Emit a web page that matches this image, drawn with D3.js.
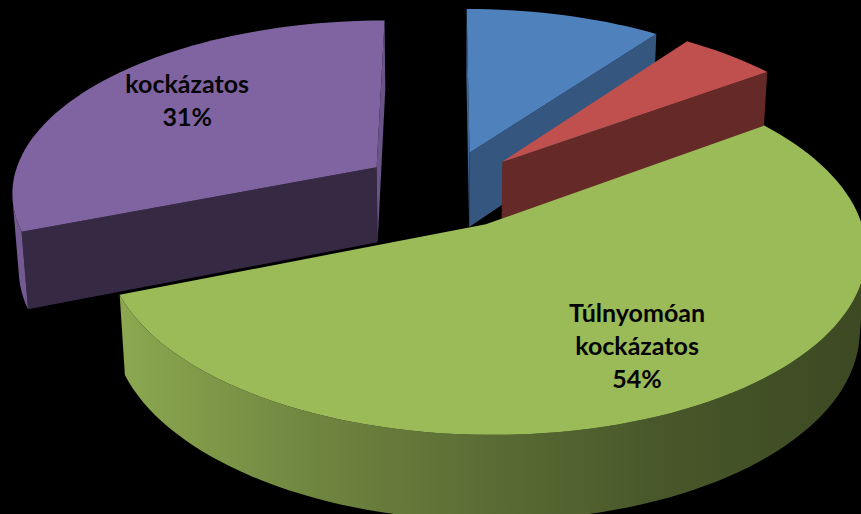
<!DOCTYPE html>
<html>
<head>
<meta charset="utf-8">
<style>html,body{margin:0;padding:0;background:#000;overflow:hidden}svg{display:block}</style>
<script src="https://cdn.jsdelivr.net/npm/d3@7/dist/d3.min.js"></script>
</head>
<body>
<script>
// ---- data ----
const categories = ["", "", "Túlnyomóan kockázatos", "kockázatos"];
const values = [10, 5, 54, 31];
const labelLines = [[], [], ["Túlnyomóan", "kockázatos", "54%"], ["kockázatos", "31%"]];
const colors = ["#4f81bd", "#c0504d", "#9bbb59", "#8064a2"];

const W = 861, H = 514;
// 3D pie view
const cx = 444.5, cy = 189, Rx = 366, Ry = 172, persp = 0.134, depthPersp = 0.015;
const thickness = 77, explode = 0.228, stepDeg = 2;

const svg = d3.select("body").append("svg").attr("width", W).attr("height", H);
svg.append("rect").attr("width", W).attr("height", H).attr("fill", "#000");
const defs = svg.append("defs");

const pie = d3.pie().sort(null).value(d => d)
  .startAngle(0).endAngle(2 * Math.PI);
const arcs = pie(values);

function project(U, V, d) {
  const w = 1 / (1 - persp * V + depthPersp * d);
  return [cx + Rx * U * w, cy + (Ry * V + thickness * d) * w];
}
const line = d3.line().x(p => p[0]).y(p => p[1]);
const closed = pts => line(pts) + "Z";

const faceShade = d3.scaleLinear().domain([90, 126, 144, 158, 270]).range([0.83, 0.67, 0.525, 0.41, 0.8]);
const rimShade = [[0, 0.9], [0.25, 0.72], [0.5, 0.58], [0.72, 0.47], [1, 0.39]];
const shade = (c, k) => { const r = d3.rgb(c); return d3.rgb(r.r * k, r.g * k, r.b * k).formatHex(); };
const signedArea = pts => d3.polygonArea(pts);

arcs.forEach((a, i) => {
  const mid = (a.startAngle + a.endAngle) / 2;
  const c0 = [explode * Math.sin(mid), -explode * Math.cos(mid)];
  const rimPt = t => [c0[0] + Math.sin(t), c0[1] - Math.cos(t)];
  const steps = Math.ceil((a.endAngle - a.startAngle) / (stepDeg * Math.PI / 180));
  const ts = d3.range(steps + 1).map(k => a.startAngle + (a.endAngle - a.startAngle) * k / steps);
  const g = svg.append("g");
  const color = colors[i];

  // radial cut faces, back-face culled
  [[c0, rimPt(a.startAngle), a.startAngle - Math.PI / 2],
   [rimPt(a.endAngle), c0, a.endAngle + Math.PI / 2]].forEach(([p, q, nrm]) => {
    const pts = [project(p[0], p[1], 0), project(q[0], q[1], 0), project(q[0], q[1], 1), project(p[0], p[1], 1)];
    if (signedArea(pts) > 0) {
      const deg = ((nrm * 180 / Math.PI) % 360 + 360) % 360;
      g.append("path").attr("d", closed(pts)).attr("fill", shade(color, faceShade(deg)));
    }
  });

  // outer rim, only the part turned towards the viewer
  const gid = "rim" + i;
  const grad = defs.append("linearGradient").attr("id", gid)
    .attr("gradientUnits", "userSpaceOnUse").attr("x1", 120).attr("x2", 861).attr("y1", 0).attr("y2", 0);
  rimShade.forEach(([o, k]) => grad.append("stop").attr("offset", o).attr("stop-color", shade(color, k)));
  let run = [];
  const flush = () => {
    if (run.length > 1) {
      const topE = run.map(t => { const p = rimPt(t); return project(p[0], p[1], 0); });
      const botE = run.map(t => { const p = rimPt(t); return project(p[0], p[1], 1); }).reverse();
      g.append("path").attr("d", closed(topE.concat(botE))).attr("fill", `url(#${gid})`);
    }
    run = [];
  };
  for (let k = 0; k < steps; k++) {
    const p1 = rimPt(ts[k]), p2 = rimPt(ts[k + 1]);
    const quad = [project(p1[0], p1[1], 0), project(p2[0], p2[1], 0), project(p2[0], p2[1], 1), project(p1[0], p1[1], 1)];
    if (signedArea(quad) > 0) {
      if (!run.length) run.push(ts[k]);
      run.push(ts[k + 1]);
    } else flush();
  }
  flush();

  // top surface
  const topPts = [project(c0[0], c0[1], 0)].concat(ts.map(t => { const p = rimPt(t); return project(p[0], p[1], 0); }));
  g.append("path").attr("d", closed(topPts)).attr("fill", color);
});

// labels, placed along each slice's mid-angle
const labelRadius = [0, 0, 0.74, 0.68];
const labelNudge = [0, 0, -7, -5];
const lineGap = 33;
arcs.forEach((a, i) => {
  const lines = labelLines[i];
  if (!lines.length) return;
  const mid = (a.startAngle + a.endAngle) / 2;
  const r = explode + labelRadius[i];
  const pos = project(r * Math.sin(mid), -r * Math.cos(mid), 0);
  const t = svg.append("text").attr("text-anchor", "middle")
    .attr("font-family", "Lato, 'Open Sans', sans-serif").attr("font-weight", 700)
    .attr("font-size", 25).attr("fill", "#050505");
  lines.forEach((s, k) => {
    t.append("tspan").attr("x", pos[0]).attr("y", pos[1] + 8 + labelNudge[i] + (k - (lines.length - 1) / 2) * lineGap).text(s);
  });
});
</script>
</body>
</html>
